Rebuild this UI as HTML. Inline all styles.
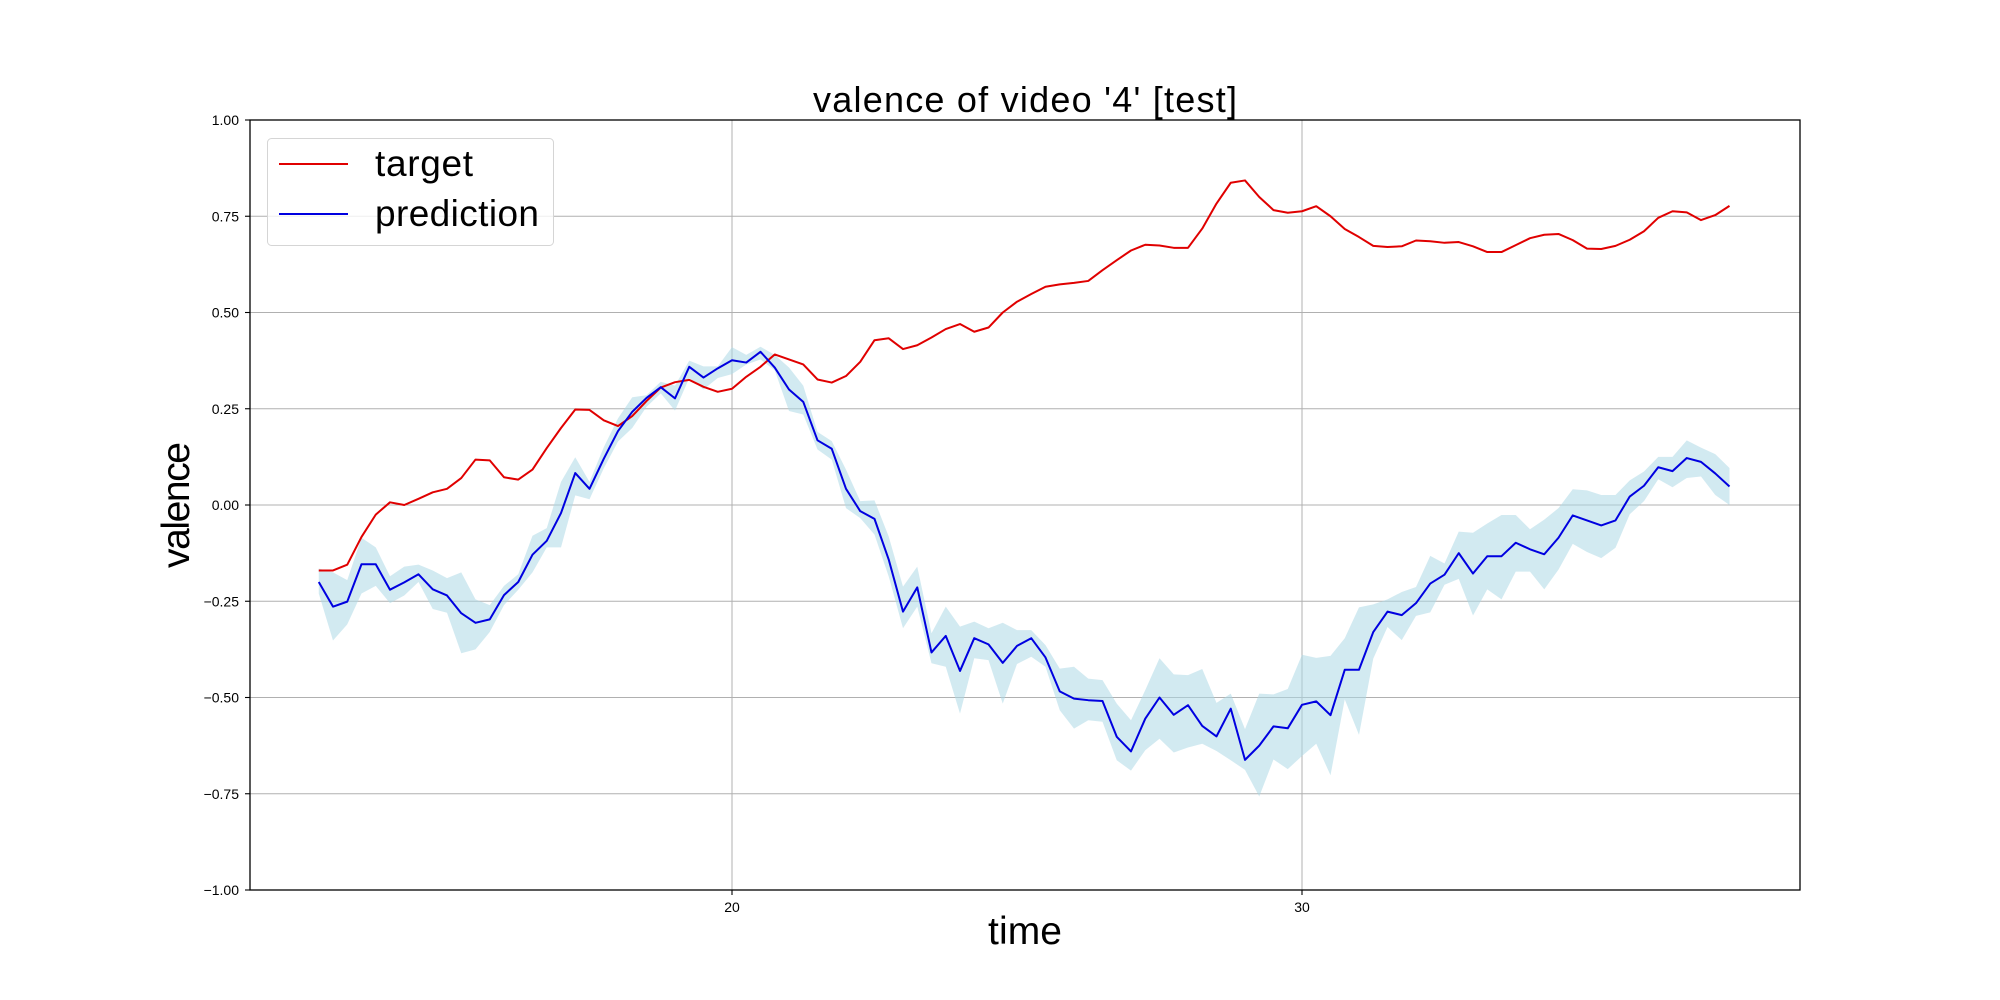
<!DOCTYPE html>
<html><head><meta charset="utf-8"><style>
html,body{margin:0;padding:0;background:#fff;}
svg{display:block;font-family:"Liberation Sans","DejaVu Sans",sans-serif;}
</style></head><body>
<svg id="chart" width="2000" height="1000" viewBox="0 0 2000 1000" xmlns="http://www.w3.org/2000/svg">
<rect x="0" y="0" width="2000" height="1000" fill="#fff"/>
<g id="grid"></g>
<g id="band"></g>
<g id="lines"></g>
<rect x="250" y="120" width="1550" height="770" fill="none" stroke="#000" stroke-width="1.3"/>
<g id="ticks"></g>
<text x="1025" y="112" font-size="36" text-anchor="middle" textLength="424">valence of video '4' [test]</text>
<text x="1025" y="944" font-size="39" text-anchor="middle" textLength="74">time</text>
<text x="0" y="0" font-size="39" text-anchor="middle" textLength="126" transform="translate(189,505) rotate(-90)">valence</text>
<g>
<rect x="267.5" y="138.5" width="286" height="107" rx="4" fill="#fff" fill-opacity="0.8" stroke="#d5d5d5" stroke-width="1"/>
<line x1="279" y1="164" x2="348" y2="164" stroke="#e00000" stroke-width="2"/>
<text x="375" y="176" font-size="37" textLength="98">target</text>
<line x1="279" y1="214" x2="348" y2="214" stroke="#0000e0" stroke-width="2"/>
<text x="375" y="226" font-size="37" textLength="164">prediction</text>
</g>
</svg>
<script>
const t0 = 12.75;
const dt = 0.25;
const targetValues = [-0.170,-0.170,-0.155,-0.083,-0.025,0.007,0.000,0.016,0.033,0.042,0.070,0.118,0.116,0.072,0.066,0.092,0.148,0.200,0.248,0.247,0.220,0.205,0.231,0.270,0.305,0.319,0.325,0.307,0.294,0.302,0.333,0.359,0.391,0.378,0.365,0.326,0.318,0.335,0.372,0.428,0.433,0.405,0.415,0.435,0.457,0.470,0.450,0.461,0.500,0.528,0.548,0.567,0.573,0.577,0.582,0.610,0.636,0.661,0.676,0.674,0.668,0.668,0.718,0.783,0.837,0.843,0.800,0.766,0.759,0.763,0.776,0.750,0.717,0.696,0.673,0.670,0.672,0.687,0.685,0.681,0.683,0.672,0.657,0.657,0.675,0.693,0.702,0.704,0.688,0.666,0.665,0.673,0.689,0.711,0.746,0.763,0.760,0.740,0.753,0.777];
const predValues = [-0.200,-0.264,-0.251,-0.154,-0.154,-0.220,-0.201,-0.180,-0.219,-0.235,-0.281,-0.306,-0.297,-0.234,-0.200,-0.129,-0.093,-0.021,0.083,0.042,0.120,0.192,0.242,0.278,0.306,0.277,0.359,0.331,0.355,0.376,0.370,0.398,0.357,0.300,0.268,0.168,0.146,0.042,-0.016,-0.036,-0.142,-0.277,-0.214,-0.383,-0.340,-0.431,-0.346,-0.362,-0.410,-0.366,-0.346,-0.396,-0.484,-0.503,-0.507,-0.509,-0.602,-0.640,-0.555,-0.500,-0.545,-0.520,-0.574,-0.601,-0.529,-0.662,-0.625,-0.575,-0.580,-0.519,-0.510,-0.546,-0.428,-0.428,-0.330,-0.277,-0.286,-0.255,-0.204,-0.181,-0.125,-0.178,-0.133,-0.133,-0.098,-0.115,-0.128,-0.085,-0.027,-0.040,-0.053,-0.040,0.022,0.050,0.098,0.088,0.122,0.112,0.082,0.048];
const bandUpper = [-0.165,-0.175,-0.195,-0.085,-0.110,-0.185,-0.160,-0.155,-0.170,-0.190,-0.175,-0.245,-0.260,-0.210,-0.180,-0.080,-0.060,0.060,0.124,0.060,0.150,0.225,0.280,0.285,0.320,0.310,0.375,0.360,0.360,0.410,0.390,0.411,0.390,0.357,0.310,0.190,0.166,0.092,0.010,0.012,-0.082,-0.212,-0.160,-0.333,-0.264,-0.316,-0.303,-0.320,-0.306,-0.325,-0.325,-0.364,-0.425,-0.420,-0.451,-0.455,-0.516,-0.559,-0.481,-0.398,-0.440,-0.442,-0.426,-0.514,-0.490,-0.582,-0.490,-0.492,-0.478,-0.389,-0.397,-0.392,-0.346,-0.266,-0.258,-0.245,-0.226,-0.213,-0.132,-0.152,-0.069,-0.072,-0.048,-0.026,-0.026,-0.063,-0.038,-0.008,0.041,0.038,0.026,0.026,0.064,0.087,0.125,0.125,0.168,0.149,0.132,0.096];
const bandLower = [-0.230,-0.352,-0.310,-0.230,-0.210,-0.255,-0.235,-0.200,-0.270,-0.280,-0.385,-0.375,-0.330,-0.260,-0.220,-0.175,-0.110,-0.110,0.025,0.015,0.095,0.165,0.200,0.255,0.290,0.245,0.330,0.300,0.330,0.340,0.365,0.378,0.350,0.244,0.235,0.144,0.118,-0.008,-0.034,-0.077,-0.186,-0.320,-0.264,-0.411,-0.420,-0.542,-0.398,-0.403,-0.516,-0.413,-0.394,-0.420,-0.533,-0.581,-0.559,-0.563,-0.663,-0.690,-0.637,-0.607,-0.643,-0.630,-0.620,-0.639,-0.663,-0.688,-0.757,-0.661,-0.686,-0.652,-0.620,-0.702,-0.505,-0.597,-0.399,-0.317,-0.351,-0.288,-0.279,-0.207,-0.192,-0.287,-0.219,-0.245,-0.173,-0.173,-0.219,-0.168,-0.101,-0.122,-0.138,-0.111,-0.024,0.010,0.067,0.046,0.070,0.074,0.026,0.000];
const yTicks = [-1.00,-0.75,-0.50,-0.25,0.00,0.25,0.50,0.75,1.00];
const yTickLabels = ["\u22121.00","\u22120.75","\u22120.50","\u22120.25","0.00","0.25","0.50","0.75","1.00"];
const xTicks = [20,30];
const xTickLabels = ["20","30"];

const NS = "http://www.w3.org/2000/svg";
function xScale(t){ return 732 + (t - 20) * 57; }
function yScale(v){ return 505 - v * 385; }
function mk(tag, attrs, parent){
  const e = document.createElementNS(NS, tag);
  for (const k in attrs) e.setAttribute(k, attrs[k]);
  parent.appendChild(e);
  return e;
}
const grid = document.getElementById('grid');
const ticks = document.getElementById('ticks');
yTicks.forEach((v, i) => {
  const y = yScale(v);
  const g = mk('line', {x1:250, x2:1800, y1:y, y2:y, stroke:'#b0b0b0', 'stroke-width':1}, grid);
  
  
  const tk = mk('line', {x1:245, x2:250, y1:y, y2:y, stroke:'#000', 'stroke-width':1.1}, ticks);
  
  
  const tx = mk('text', {x:239, y:y+5, 'font-size':14, 'text-anchor':'end'}, ticks);
  tx.textContent = yTickLabels[i];
  
  
});
xTicks.forEach((t, i) => {
  const x = xScale(t);
  const g = mk('line', {x1:x, x2:x, y1:120, y2:890, stroke:'#b0b0b0', 'stroke-width':1}, grid);
  
  
  const tk = mk('line', {x1:x, x2:x, y1:890, y2:895, stroke:'#000', 'stroke-width':1.1}, ticks);
  
  
  const tx = mk('text', {x:x, y:912, 'font-size':14, 'text-anchor':'middle'}, ticks);
  tx.textContent = xTickLabels[i];
  
  
});
function tAt(i){ return t0 + i * dt; }
let up = bandUpper.map((v,i) => xScale(tAt(i)).toFixed(2) + ',' + yScale(v).toFixed(2));
let lo = bandLower.map((v,i) => xScale(tAt(i)).toFixed(2) + ',' + yScale(v).toFixed(2)).reverse();
const band = mk('polygon', {points: up.concat(lo).join(' '), fill:'#add8e6', 'fill-opacity':0.55}, document.getElementById('band'));


const lines = document.getElementById('lines');
const tl = mk('polyline', {points: targetValues.map((v,i) => xScale(tAt(i)).toFixed(2) + ',' + yScale(v).toFixed(2)).join(' '), fill:'none', stroke:'#e00000', 'stroke-width':2, 'stroke-linejoin':'round'}, lines);


const pl = mk('polyline', {points: predValues.map((v,i) => xScale(tAt(i)).toFixed(2) + ',' + yScale(v).toFixed(2)).join(' '), fill:'none', stroke:'#0000e0', 'stroke-width':2, 'stroke-linejoin':'round'}, lines);


</script>
</body></html>
